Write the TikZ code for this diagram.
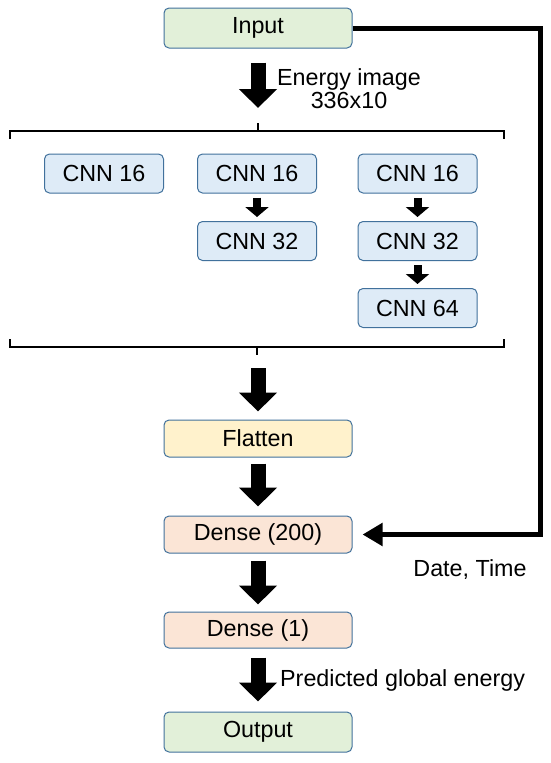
\documentclass[tikz,border=0pt]{standalone}
\usepackage{fontspec}
\setmainfont{Liberation Sans}
\usetikzlibrary{arrows.meta,calc}
\definecolor{bord}{HTML}{41719C}
\definecolor{gfill}{HTML}{E2F0D9}
\definecolor{bfill}{HTML}{DEEBF7}
\definecolor{yfill}{HTML}{FFF2CC}
\definecolor{pfill}{HTML}{FBE5D6}
\begin{document}
\begin{tikzpicture}[x=1pt,y=-1pt,
  box/.style={draw=bord, line width=1pt, rounded corners=5pt, minimum width=188pt,
    minimum height=39pt, inner sep=0pt, font=\fontsize{23.3}{26}\selectfont},
  cnn/.style={box, fill=bfill, minimum width=119pt},
  bigarr/.style={line width=15pt, -{Triangle[width=37pt,length=19pt]}},
  smallarr/.style={line width=8pt, -{Triangle[width=23pt,length=10pt]}, shorten <=4pt, shorten >=4pt},
  brk/.style={line width=1.2pt},
  lbl/.style={font=\fontsize{23.3}{23}\selectfont, inner sep=0pt}]
\useasboundingbox (0,0) rectangle (550,763);

% main column
\node[box, fill=gfill, minimum height=40pt] (in) at (258,28) {Input};
\node[box, fill=yfill, minimum height=37pt] (fl) at (258,438.5) {Flatten};
\node[box, fill=pfill, minimum height=37pt] (d2) at (258,534.5) {Dense (200)};
\node[box, fill=pfill, minimum height=36pt] (d1) at (258,630) {Dense (1)};
\node[box, fill=gfill, minimum height=40pt] (out) at (258,732) {Output};

% CNN branches
\node[cnn] (c11) at (104,173.5) {CNN 16};
\node[cnn] (c21) at (257,173.5) {CNN 16};
\node[cnn] (c22) at (257,241) {CNN 32};
\node[cnn] (c31) at (417.5,173.5) {CNN 16};
\node[cnn] (c32) at (417.5,241) {CNN 32};
\node[cnn] (c33) at (417.5,308) {CNN 64};

\draw[smallarr] (c21) -- (c22);
\draw[smallarr] (c31) -- (c32);
\draw[smallarr] (c32) -- (c33);

% brackets
\coordinate (tl) at (10,139);
\coordinate (tr) at (504,139);
\coordinate (tm) at (258,131);
\coordinate (tt) at (258,123);
\draw[brk] (tl) -- (10,131) -- (504,131) -- (tr);
\draw[brk] (tm) -- (tt);
\coordinate (bl) at (10,339);
\coordinate (br) at (504,339);
\coordinate (bm) at (257,347);
\coordinate (bt) at (257,355);
\draw[brk] (bl) -- (10,347) -- (504,347) -- (br);
\draw[brk] (bm) -- (bt);

% big arrows
\coordinate (e0) at (258,108);
\coordinate (b1) at (258,368);
\draw[bigarr] ([yshift=-14pt]in.south) -- (e0);
\draw[bigarr] (b1) -- ([yshift=8pt]fl.north);
\draw[bigarr] ([yshift=-6pt]fl.south) -- ([yshift=9pt]d2.north);
\draw[bigarr] ([yshift=-7pt]d2.south) -- ([yshift=7pt]d1.north);
\draw[bigarr] ([yshift=-9pt]d1.south) -- ([yshift=10pt]out.north);

% side connection
\coordinate (corner) at (540,28);
\draw[line width=5pt, line join=miter, -{Triangle[width=22pt,length=20pt]}, shorten >=10pt]
  (in.east) -- (corner) |- (d2.east);

% labels
\node[lbl, align=center] (ei) at (349,88.5) {Energy image\\336x10};
\node[lbl, anchor=west] (pg) at (280,680) {Predicted global energy};
\node[lbl] (dt) at (470,570) {Date, Time};
\end{tikzpicture}
\end{document}
